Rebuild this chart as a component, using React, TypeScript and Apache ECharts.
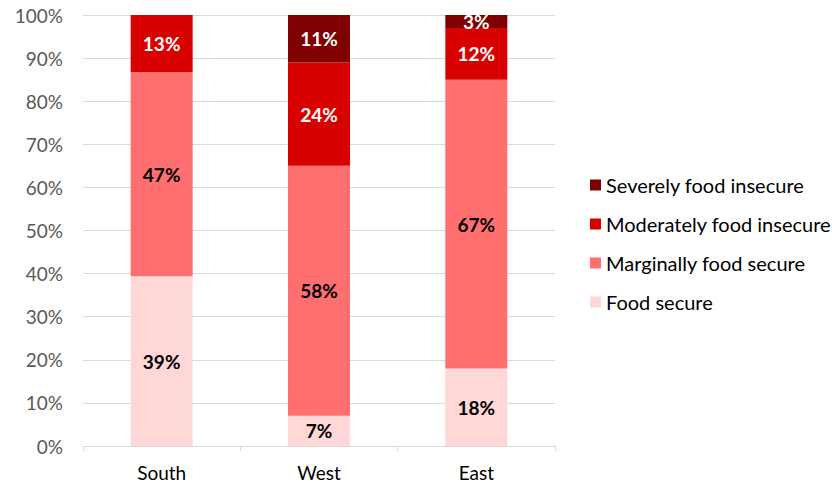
import React, { useEffect, useRef } from "react";
import * as echarts from "echarts";

const categories = ["South", "West", "East"];
const foodSecure = [39.4, 7, 18];
const marginallySecure = [47.4, 58, 67];
const moderatelyInsecure = [13.2, 24, 12];
const severelyInsecure = [0, 11, 3];
const yTicks = [0, 10, 20, 30, 40, 50, 60, 70, 80, 90, 100];

const FONT = "Lato, 'Open Sans', sans-serif";

export default function App() {
  const ref = useRef<HTMLDivElement>(null);
  useEffect(() => {
    if (!ref.current) return;
    const chart = echarts.init(ref.current, null, { renderer: "svg" });
    const label = (color: string) => ({
      show: true,
      position: "inside" as const,
      color,
      fontFamily: FONT,
      fontWeight: "bold" as const,
      fontSize: 19,
      formatter: (p: any) => (p.value > 0 ? Math.round(p.value) + "%" : ""),
    });
    const mk = (name: string, data: number[], color: string, lc: string) => ({
      name,
      type: "bar" as const,
      stack: "total",
      data,
      barWidth: 62,
      itemStyle: { color },
      label: label(lc),
    });
    chart.setOption({
      animation: false,
      textStyle: { fontFamily: FONT },
      grid: { left: 83, right: 277, top: 15, bottom: 42, containLabel: false },
      legend: {
        orient: "vertical",
        left: 585,
        top: 170,
        itemWidth: 11,
        itemHeight: 11,
        itemGap: 19,
        icon: "rect",
        textStyle: { fontSize: 20, color: "#000", fontFamily: FONT },
        data: [
          "Severely food insecure",
          "Moderately food insecure",
          "Marginally food secure",
          "Food secure",
        ],
      },
      xAxis: {
        type: "category",
        data: categories,
        axisLine: { show: true, lineStyle: { color: "#d9d9d9", width: 1 } },
        axisTick: { show: true, length: 5, lineStyle: { color: "#d9d9d9" } },
        axisLabel: { fontSize: 19, color: "#000", margin: 17, fontFamily: FONT },
      },
      yAxis: {
        type: "value",
        min: 0,
        max: 100,
        interval: 10,
        axisLine: { show: false },
        axisTick: { show: false },
        splitLine: { lineStyle: { color: "#d9d9d9", width: 1 } },
        axisLabel: {
          fontSize: 19,
          color: "#595959",
          margin: 20,
          fontFamily: FONT,
          formatter: (v: number) => (yTicks.includes(v) ? v + "%" : ""),
        },
      },
      series: [
        mk("Food secure", foodSecure, "#FFD7D7", "#000"),
        mk("Marginally food secure", marginallySecure, "#FF6F6F", "#000"),
        mk("Moderately food insecure", moderatelyInsecure, "#D90000", "#fff"),
        mk("Severely food insecure", severelyInsecure, "#7F0000", "#fff"),
      ],
    });
    return () => chart.dispose();
  }, []);
  return (
    <div
      ref={ref}
      style={{ position: "absolute", left: 0, top: 0, width: 832, height: 488 }}
    />
  );
}
